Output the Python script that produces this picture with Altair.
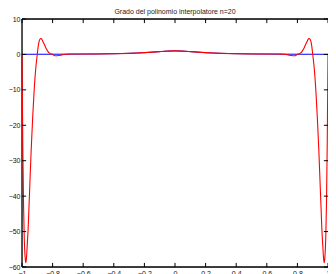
import altair as alt
import pandas as pd

# interpolating polynomial (red)
px = [-1, -0.995, -0.99, -0.985, -0.98, -0.975, -0.97, -0.965, -0.96, -0.955, -0.95,
      -0.94, -0.93, -0.92, -0.91, -0.9, -0.895, -0.89, -0.885, -0.88, -0.875, -0.87,
      -0.865, -0.86, -0.85, -0.84, -0.83, -0.82, -0.81, -0.8, -0.79, -0.78, -0.77,
      -0.76, -0.74, -0.72, -0.7, -0.68, -0.65, -0.6, -0.5, -0.4, -0.3, -0.25, -0.2,
      -0.15, -0.1, -0.05, 0,
      0.05, 0.1, 0.15, 0.2, 0.25, 0.3, 0.4, 0.5, 0.6, 0.65, 0.68, 0.7, 0.72, 0.74,
      0.76, 0.77, 0.78, 0.79, 0.8, 0.81, 0.82, 0.83, 0.84, 0.85, 0.86, 0.865, 0.87,
      0.875, 0.88, 0.885, 0.89, 0.895, 0.9, 0.91, 0.92, 0.93, 0.94, 0.95, 0.955,
      0.96, 0.965, 0.97, 0.975, 0.98, 0.985, 0.99, 0.995, 1]
py = [0.04, -25.3, -42.3, -52.3, -57.0, -58.8, -57.0, -53.2, -49.4, -43.8, -38.2,
      -27.0, -17.6, -9.7, -3.9, 0.05, 2.0, 3.35, 4.1, 4.4, 4.45, 4.25,
      3.8, 3.4, 2.43, 1.5, 0.8, 0.36, 0.12, 0.06, -0.28, -0.38, -0.37,
      -0.29, -0.12, 0.03, 0.075, 0.1, 0.12, 0.1, 0.138, 0.2, 0.308, 0.39, 0.5,
      0.64, 0.8, 0.94, 1.0,
      0.94, 0.8, 0.64, 0.5, 0.39, 0.308, 0.2, 0.138, 0.1, 0.12, 0.1, 0.075, 0.03, -0.12,
      -0.29, -0.37, -0.38, -0.28, 0.06, 0.12, 0.36, 0.8, 1.5, 2.43, 3.4, 3.8, 4.25,
      4.45, 4.4, 4.1, 3.35, 2.0, 0.05, -3.9, -9.7, -17.6, -27.0, -38.2, -43.8,
      -49.4, -53.2, -57.0, -58.8, -57.0, -52.3, -42.3, -25.3, 0.04]

# Runge function (blue)
fx = [-1, -0.9, -0.8, -0.7, -0.6, -0.5, -0.4, -0.3, -0.25, -0.2, -0.15, -0.1, -0.05, 0,
      0.05, 0.1, 0.15, 0.2, 0.25, 0.3, 0.4, 0.5, 0.6, 0.7, 0.8, 0.9, 1]
fy = [0.038, 0.047, 0.059, 0.075, 0.1, 0.138, 0.2, 0.308, 0.39, 0.5, 0.64, 0.8, 0.94, 1.0,
      0.94, 0.8, 0.64, 0.5, 0.39, 0.308, 0.2, 0.138, 0.1, 0.075, 0.059, 0.047, 0.038]

xticks = [-1, -0.8, -0.6, -0.4, -0.2, 0, 0.2, 0.4, 0.6, 0.8, 1]
yticks = [-60, -50, -40, -30, -20, -10, 0, 10]

XMIN, XMAX, YMIN, YMAX = -1, 1, -60, 10
TX = 0.027   # inward tick length in x units
TY = 1.15    # inward tick length in y units

red = pd.DataFrame({"x": px, "y": py})
blue = pd.DataFrame({"x": fx, "y": fy})
xt = pd.DataFrame({"t": xticks})
yt = pd.DataFrame({"t": yticks})

xs = alt.Scale(domain=[XMIN, XMAX], nice=False, zero=False)
ys = alt.Scale(domain=[YMIN, YMAX], nice=False, zero=False)

common = dict(format=".1~f", ticks=False, domain=False, grid=False,
              labelFontSize=7, labelPadding=2, title=None, labelColor="#111",
              labelFont="Liberation Sans", labelFlush=False, labelOverlap=False,
              labelBound=False)
xax = alt.Axis(values=xticks, **common)
yax = alt.Axis(values=yticks, **common)


def X(field):
    return alt.X(field, type="quantitative", scale=xs, axis=xax)


def Y(field):
    return alt.Y(field, type="quantitative", scale=ys, axis=yax)


def XD(v):
    return alt.XDatum(v, scale=xs, axis=xax)


def YD(v):
    return alt.YDatum(v, scale=ys, axis=yax)


# left frame edge (the right edge of the original is off the picture)
frame_v = alt.Chart(pd.DataFrame({"x": [XMIN]})).mark_rule(color="black", strokeWidth=1.3).encode(
    x=X("x"), y=YD(YMIN), y2=alt.datum(YMAX))
frame_h = alt.Chart(pd.DataFrame({"y": [YMIN, YMAX]})).mark_rule(color="black", strokeWidth=1.3).encode(
    y=Y("y"), x=XD(XMIN), x2=alt.datum(XMAX))

blue_line = alt.Chart(blue).mark_line(color="#0000ff", strokeWidth=1, interpolate="monotone").encode(
    x=X("x"), y=Y("y"))
red_line = alt.Chart(red).mark_line(color="#ff0000", strokeWidth=1.1, interpolate="monotone").encode(
    x=X("x"), y=Y("y"))

tick_bottom = alt.Chart(xt).mark_rule(color="black", strokeWidth=1).encode(
    x=X("t"), y=YD(YMIN), y2=alt.datum(YMIN + TY))
tick_top = alt.Chart(xt).mark_rule(color="black", strokeWidth=1).encode(
    x=X("t"), y=YD(YMAX), y2=alt.datum(YMAX - TY))
tick_left = alt.Chart(yt).mark_rule(color="black", strokeWidth=1).encode(
    y=Y("t"), x=XD(XMIN), x2=alt.datum(XMIN + TX))
tick_right = alt.Chart(yt).mark_rule(color="black", strokeWidth=1).encode(
    y=Y("t"), x=XD(XMAX), x2=alt.datum(XMAX - TX))

chart = alt.layer(frame_v, frame_h, blue_line, red_line,
                  tick_bottom, tick_top, tick_left, tick_right).properties(
    width=306, height=248,
    autosize=alt.AutoSizeParams(type="none"),
    padding={"left": 14, "top": 11, "right": 0, "bottom": 9},
    title=alt.TitleParams("Grado del polinomio interpolatore n=20", fontSize=7,
                          fontWeight="normal", font="Liberation Sans", color="#222",
                          anchor="middle", offset=3, frame="group", dy=3),
).configure_view(stroke=None).configure(background="white")

chart.save("out.html", embed_options={"renderer": "svg", "actions": False})
